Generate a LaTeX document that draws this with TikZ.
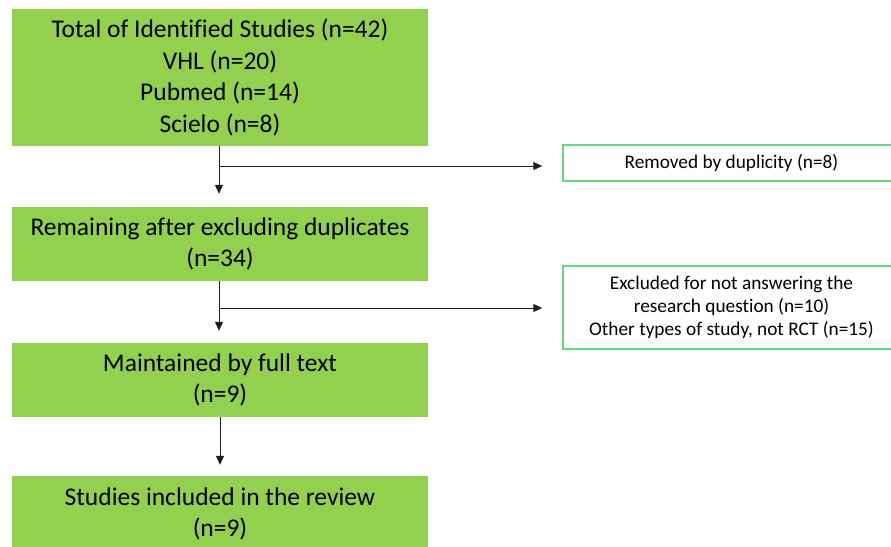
\documentclass[tikz,border=0pt]{standalone}
\usepackage{fontspec}
\setmainfont{Carlito}[Ligatures=CommonOff]
\usetikzlibrary{arrows.meta,calc}
\definecolor{boxgreen}{HTML}{92D050}
\definecolor{edgegreen}{RGB}{102,216,128}
\definecolor{linegray}{RGB}{30,30,30}
\begin{document}
\begin{tikzpicture}[x=1pt,y=-1pt,
  mainbox/.style={fill=boxgreen, draw=none, minimum width=416pt, align=center,
     inner sep=0pt, font=\fontsize{25.5}{31.5}\selectfont},
  sidebox/.style={fill=white, draw=edgegreen, line width=1.5pt, minimum width=337pt,
     align=center, inner sep=0pt, font=\fontsize{19.3}{23}\selectfont},
  flow/.style={draw=linegray, line width=1pt, -{Triangle[width=8pt,length=9pt]}}]
\useasboundingbox (0,0) rectangle (891,546);
\node[mainbox, minimum height=137pt] (b1) at (220,77.5)
  {Total of Identified Studies (n=42)\\VHL (n=20)\\Pubmed (n=14)\\Scielo (n=8)};
\node[mainbox, minimum height=74pt] (b2) at (220,244)
  {Remaining after excluding duplicates\\(n=34)};
\node[mainbox, minimum height=74pt] (b3) at (220,380)
  {Maintained by full text\\(n=9)};
\node[mainbox, minimum height=76pt] (b4) at (220,514)
  {Studies included in the review\\(n=9)};
\node[sidebox, minimum height=36pt] (r1) at (731.5,163)
  {Removed by duplicity (n=8)};
\node[sidebox, minimum height=83pt] (r2) at (731.5,307.5)
  {Excluded for not answering the\\research question (n=10)\\Other types of study, not RCT (n=15)};
\coordinate (j1) at (219,166);
\coordinate (j2) at (219,308);
\draw[flow, shorten >=13pt] ([xshift=-1pt]b1.south) -- ([xshift=-1pt]b2.north);
\draw[flow, shorten >=20pt] (j1) -- (j1 -| r1.west);
\draw[flow, shorten >=12pt] ([xshift=-1pt]b2.south) -- ([xshift=-1pt]b3.north);
\draw[flow, shorten >=20pt] (j2) -- (j2 -| r2.west);
\draw[flow, shorten >=11pt] (b3.south) -- (b4.north);
\end{tikzpicture}
\end{document}
